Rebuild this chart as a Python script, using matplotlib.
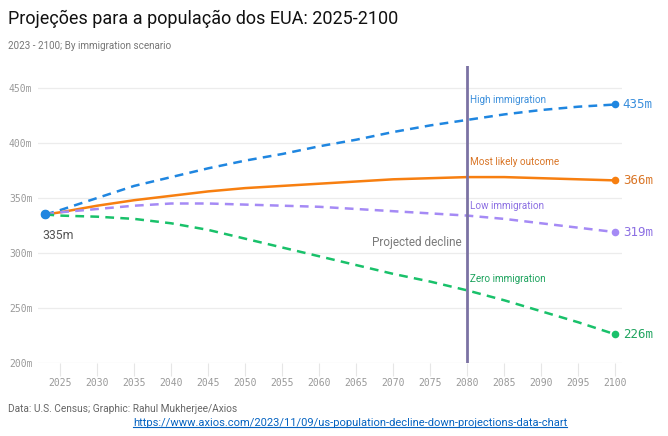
import matplotlib
matplotlib.use("Agg")
import matplotlib.pyplot as plt
from matplotlib.lines import Line2D

# chart values (millions of people)
years = [2023, 2025, 2030, 2035, 2040, 2045, 2050, 2055, 2060,
         2065, 2070, 2075, 2080, 2085, 2090, 2095, 2100]
high_imm = [335, 339, 350, 361, 369, 377, 384, 390, 397,
            403, 410, 416, 421, 426, 430, 433, 435]
most_likely = [335, 337, 343, 348, 352, 356, 359, 361, 363,
               365, 367, 368, 369, 369, 368, 367, 366]
low_imm = [335, 337, 340, 343, 345, 345, 344, 343, 342,
           340, 338, 336, 334, 331, 327, 323, 319]
zero_imm = [335, 334, 333, 331, 327, 321, 313, 305, 297,
            289, 281, 274, 266, 257, 247, 237, 226]

x_ticks = list(range(2025, 2101, 5))
y_ticks = [200, 250, 300, 350, 400, 450]
decline_year = 2080

names = ["High immigration", "Most likely outcome", "Low immigration", "Zero immigration"]
series = [high_imm, most_likely, low_imm, zero_imm]
line_colors = ["#1f86e0", "#f77f10", "#a58af5", "#19c16a"]
text_colors = ["#3b8fdc", "#d97526", "#8c6fe3", "#1ea35e"]
label_y = [439, 383, 343, 276]

fig = plt.figure(figsize=(6.68, 4.36), dpi=100)
ax = fig.add_axes([38 / 668, 1 - 363 / 436, (622 - 38) / 668, (363 - 66) / 436])

for name, vals, lc in zip(names, series, line_colors):
    ls = "-" if name == "Most likely outcome" else (0, (3.5, 2.5))
    ax.plot(years, vals, color=lc, lw=1.8, linestyle=ls, zorder=3)
    ax.scatter([years[-1]], [vals[-1]], s=30, color=lc, zorder=4, linewidths=0)

for name, vals, tc, ly in zip(names, series, text_colors, label_y):
    ax.text(decline_year + 0.3, ly, name, color=tc, fontsize=7.1, family="Roboto",
            va="center", ha="left")
    ax.text(years[-1] + 1.0, vals[-1], f"{vals[-1]}m", color=tc, fontsize=9,
            family="DejaVu Sans Mono", va="center", ha="left")

# start dot
ax.scatter([years[0]], [zero_imm[0]], s=42, color=line_colors[3], zorder=4, linewidths=0)
ax.scatter([years[0]], [high_imm[0]], s=48, color=line_colors[0], zorder=5, linewidths=0)
ax.text(years[0] - 0.4, 316, f"{high_imm[0]}m", color="#555555", fontsize=8.8,
        family="Roboto", va="center", ha="left")

ax.axvline(decline_year, color="#7b72a3", lw=2, zorder=5)
ax.text(decline_year - 0.8, 310, "Projected decline", color="#7a7a7a", fontsize=8.5,
        family="Roboto", ha="right", va="center")

ax.set_xlim(2022.0, 2100.9)
ax.set_ylim(200, 470)
ax.set_xticks(x_ticks)
ax.set_yticks(y_ticks)
ax.set_yticklabels([f"{v}m" for v in y_ticks])
ax.grid(axis="y", color="#ececec", lw=0.9)
ax.set_axisbelow(True)
for s in ax.spines.values():
    s.set_visible(False)
ax.tick_params(axis="y", length=0, pad=4, labelsize=7, labelcolor="#999999")
ax.tick_params(axis="x", length=9, width=0.8, color="#e6e6e6", pad=2,
               labelsize=7, labelcolor="#999999")
for lab in ax.get_xticklabels() + ax.get_yticklabels():
    lab.set_family("DejaVu Sans Mono")

fig.text(8 / 668, 1 - 19 / 436, "Projeções para a população dos EUA: 2025-2100",
         fontsize=13, family="Roboto", color="#111111", va="center", ha="left")
fig.text(8 / 668, 1 - 46 / 436, "2023 - 2100; By immigration scenario",
         fontsize=7.1, family="Roboto", color="#777777", va="center", ha="left")
fig.text(8 / 668, 1 - 409 / 436, "Data: U.S. Census; Graphic: Rahul Mukherjee/Axios",
         fontsize=7.3, family="Roboto", color="#666666", va="center", ha="left")

link = fig.text(350 / 668, 1 - 423 / 436,
                "https://www.axios.com/2023/11/09/us-population-decline-down-projections-data-chart",
                fontsize=8, family="Roboto", color="#0563c1", va="center", ha="center")
fig.canvas.draw()
bb = link.get_window_extent().transformed(fig.transFigure.inverted())
fig.add_artist(Line2D([bb.x0, bb.x1], [bb.y0 + 0.002, bb.y0 + 0.002],
                      transform=fig.transFigure, color="#0563c1", lw=0.8))

fig.savefig("out.png", dpi=100)
